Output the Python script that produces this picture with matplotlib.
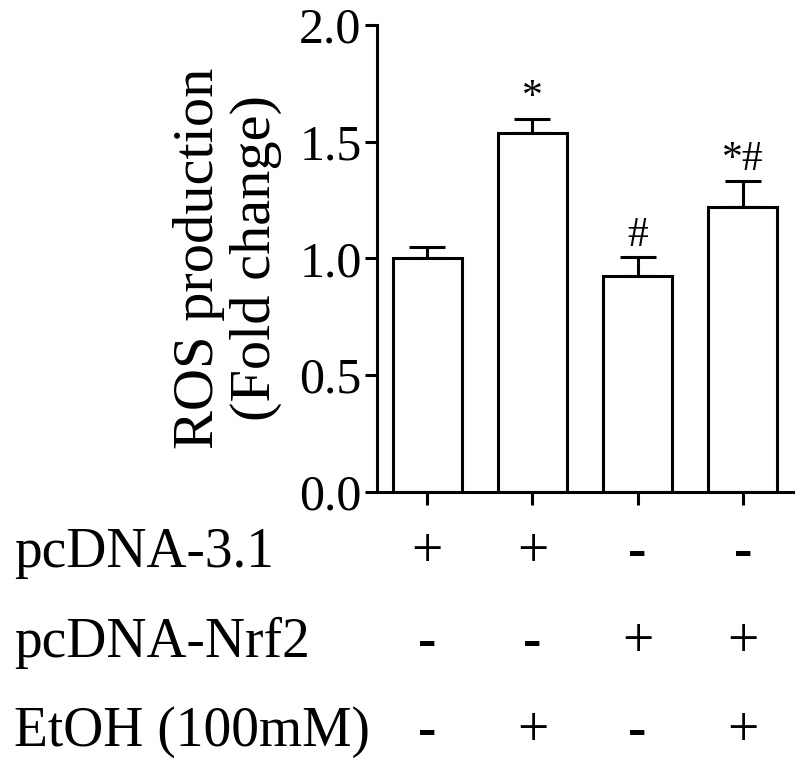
import numpy as np
import matplotlib
matplotlib.use('Agg')
import matplotlib.pyplot as plt
import matplotlib.transforms as mtransforms

plt.rcParams['font.family'] = ['Liberation Serif', 'DejaVu Serif']

# data
means = [1.0, 1.536, 0.926, 1.222]
errs = [0.05, 0.061, 0.081, 0.111]
marks = ['', '*', '#', '*#']

row_names = ['pcDNA-3.1', 'pcDNA-Nrf2', 'EtOH (100mM)']
rows = [['+', '+', '-', '-'],
        ['-', '-', '+', '+'],
        ['-', '+', '-', '+']]

fig = plt.figure(figsize=(8, 7.71), dpi=100)
ax = fig.add_axes([0.471, 0.3623, 0.52, 0.6053])

x = np.arange(len(means))
lw = 2.2
ax.bar(x, means, width=0.656, color='white', edgecolor='black', linewidth=lw, zorder=2)
ax.errorbar(x, means, yerr=[np.zeros(len(errs)), errs], fmt='none', ecolor='black',
            elinewidth=lw, capsize=13, capthick=lw, zorder=1)

for xi, m, e, s in zip(x, means, errs, marks):
    if s:
        ax.annotate(s, (xi, m + e), xytext=(0, 15), textcoords='offset points',
                    ha='center', va='center', fontsize=30)

ax.set_xlim(-0.48, 3.475)
ax.set_ylim(0, 2.0)
ax.set_yticks([0.0, 0.5, 1.0, 1.5, 2.0])
ax.set_yticklabels(['0.0', '0.5', '1.0', '1.5', '2.0'])
ax.set_xticks(x)
ax.set_xticklabels([])
ax.tick_params(axis='both', direction='out', length=9, width=lw, labelsize=36, pad=2)
for side in ['top', 'right']:
    ax.spines[side].set_visible(False)
for side in ['left', 'bottom']:
    ax.spines[side].set_linewidth(lw)
ax.set_ylabel('ROS production\n(Fold change)', fontsize=42, linespacing=1.12, labelpad=12)

# treatment table under the bars
trans = mtransforms.blended_transform_factory(ax.transData, fig.transFigure)
row_y = [0.283, 0.166, 0.050]
for name, signs, yy in zip(row_names, rows, row_y):
    fig.text(0.018, yy, name, fontsize=40, ha='left', va='center')
    for xi, s in zip(x, signs):
        if s == '-':
            ax.text(xi, yy, s, transform=trans, fontsize=40, fontweight='bold',
                    ha='center', va='center')
        else:
            ax.text(xi, yy, s, transform=trans, fontsize=40, ha='center', va='center')

fig.savefig('out.png', dpi=100)
